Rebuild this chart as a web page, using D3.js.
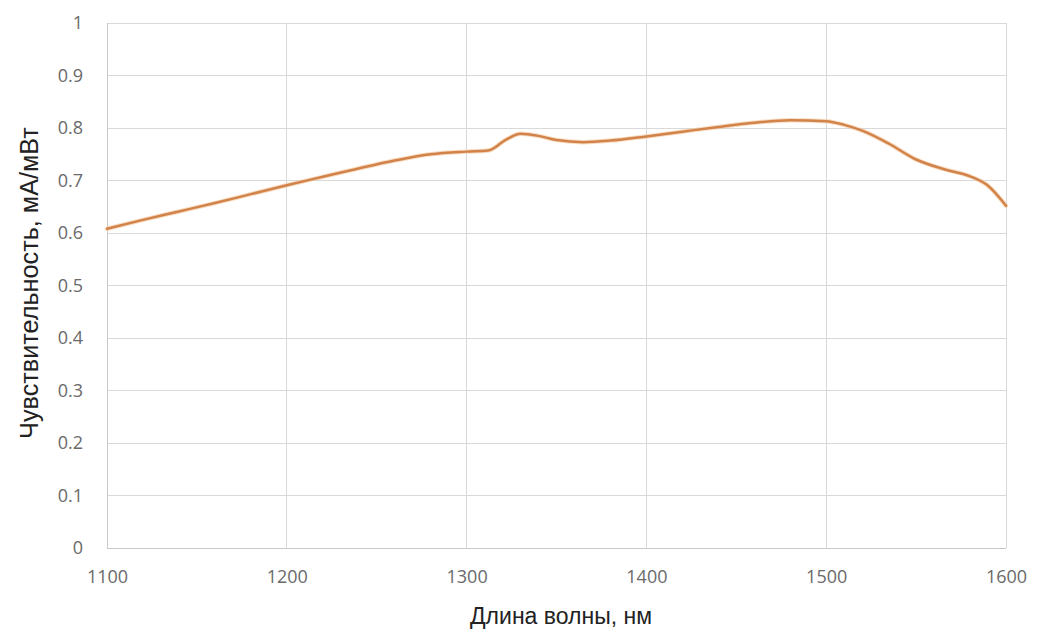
<!DOCTYPE html>
<html><head><meta charset="utf-8">
<script src="https://cdn.jsdelivr.net/npm/d3@7"></script>
<style>body{margin:0;background:#fff;}svg{display:block;}</style>
</head><body>
<svg id="c" width="1049" height="633"></svg>
<script>
const wavelengths = [1100,1120,1140,1160,1180,1200,1220,1240,1260,1280,1300,1312,1322,1330,1340,1350,1365,1380,1400,1420,1440,1460,1480,1500,1510,1520,1535,1550,1565,1580,1590,1600];
const sensitivity = [0.608,0.625,0.641,0.657,0.674,0.691,0.707,0.723,0.738,0.750,0.755,0.757,0.778,0.789,0.785,0.777,0.773,0.776,0.784,0.793,0.802,0.810,0.815,0.813,0.806,0.795,0.770,0.740,0.722,0.708,0.690,0.652];
const xTicks = [1100,1200,1300,1400,1500,1600];
const yTicks = [0,0.1,0.2,0.3,0.4,0.5,0.6,0.7,0.8,0.9,1];
const xTitle = "Длина волны, нм";
const yTitle = "Чувствительность, мА/мВт";

const svg = d3.select("#c");
const W = 1049, H = 633;
const m = {l:107, r:W-1006, t:23, b:H-548};
const x = d3.scaleLinear().domain([1100,1600]).range([m.l, W-m.r]);
const y = d3.scaleLinear().domain([0,1]).range([H-m.b, m.t]);
const tickFont = "'Open Sans', 'Liberation Sans', sans-serif";
const titleFont = "'Liberation Sans', Arial, sans-serif";

// grid
svg.append("g").selectAll("line").data(yTicks).join("line")
  .attr("x1", x(1100)).attr("x2", x(1600))
  .attr("y1", d=>y(d)).attr("y2", d=>y(d))
  .attr("stroke", d=> d===0 ? "#c8c8c8" : "#d9d9d9").attr("stroke-width",1).attr("shape-rendering","crispEdges");
svg.append("g").selectAll("line").data(xTicks).join("line")
  .attr("x1", d=>x(d)).attr("x2", d=>x(d))
  .attr("y1", y(0)).attr("y2", y(1))
  .attr("stroke", d=> d===1100 ? "#c8c8c8" : "#d9d9d9").attr("stroke-width",1).attr("shape-rendering","crispEdges");

// axes labels
const ya = d3.axisLeft(y).tickValues(yTicks).tickSize(0).tickPadding(24).tickFormat(d=>String(+d.toFixed(1)));
const gy = svg.append("g").attr("transform",`translate(${x(1100)},0)`).call(ya);
gy.select(".domain").remove();
gy.selectAll("text").attr("font-family",tickFont).attr("font-size",18).attr("fill","#6a6a6a");

const xa = d3.axisBottom(x).tickValues(xTicks).tickSize(0).tickPadding(22).tickFormat(d3.format("d"));
const gx = svg.append("g").attr("transform",`translate(0,${y(0)})`).call(xa);
gx.select(".domain").remove();
gx.selectAll("text").attr("font-family",tickFont).attr("font-size",18).attr("fill","#6a6a6a");

// line
const line = d3.line().x((d,i)=>x(wavelengths[i])).y(d=>y(d)).curve(d3.curveMonotoneX);
svg.append("path").datum(sensitivity).attr("d",line)
  .attr("fill","none").attr("stroke","#f3c79c").attr("stroke-width",4.5).attr("stroke-linecap","round").attr("opacity",0.6);
svg.append("path").datum(sensitivity).attr("d",line)
  .attr("fill","none").attr("stroke","#d2834a").attr("stroke-width",2.5).attr("stroke-linecap","round");

// titles (font size fitted to measured widths in reference)
function fit(sel, target){
  let fs = 20; sel.attr("font-size", fs);
  const len = sel.node().getComputedTextLength();
  if (len > 0) { fs = fs * target / len; sel.attr("font-size", fs); }
}
const xt = svg.append("text").attr("x",561).attr("y",624).attr("text-anchor","middle")
  .attr("font-family",titleFont).attr("fill","#222").text(xTitle);
fit(xt, 182);
const yt = svg.append("text").attr("transform",`translate(38,${283}) rotate(-90)`).attr("text-anchor","middle")
  .attr("font-family",titleFont).attr("fill","#222").text(yTitle);
fit(yt, 312);
</script>
</body></html>
